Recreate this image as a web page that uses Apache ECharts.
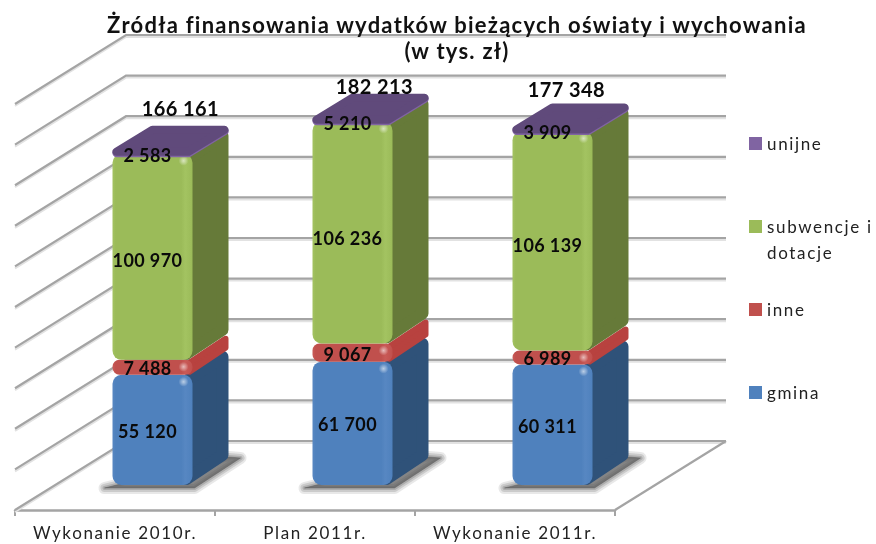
<!DOCTYPE html>
<html><head><meta charset="utf-8">
<style>
html,body{margin:0;padding:0;background:#fff}
#c{width:876px;height:544px;filter:blur(0.45px)}
#c svg text{letter-spacing:1.65px}
#c svg text[style*="bold"]{letter-spacing:0.4px}
#c svg text[style*="22px"]{letter-spacing:1.25px}
</style>
<script src="https://cdn.jsdelivr.net/npm/echarts@6/dist/echarts.min.js"></script>
</head><body><div id="c"></div>
<script>
const categories = ['Wykonanie 2010r.', 'Plan 2011r.', 'Wykonanie 2011r.'];
const gmina = [55120, 61700, 60311];
const inne = [7488, 9067, 6989];
const subwencje = [100970, 106236, 106139];
const unijne = [2583, 5210, 3909];
const totals = [166161, 182213, 177348];
const gridTicks = [0, 20000, 40000, 60000, 80000, 100000, 120000, 140000, 160000, 180000, 200000];

// oblique-projection style constants (pixels)
const WALL_DX = 111, WALL_DY = 69;
const BAR_LIFT = 25, BAR_W = 80, BAR_DX = 36, BAR_DY = 24, LID_DY = 27, BAR_SHIFT = -2.5, FORE = 0.985;
const TOTAL_DX = [68, 62, 54], TOTAL_DY = [-21, -11, -17];

const fmt = v => String(v).replace(/\B(?=(\d{3})+$)/g, ' ');
const stacks = [gmina, inne, subwencje, unijne];

function geom(api, idx, lo, hi) {
  const p0 = api.coord([idx, 0]);
  const pLo = api.coord([idx, lo]), pHi = api.coord([idx, hi]);
  const base = p0[1] - BAR_LIFT;
  return {
    x: p0[0] + BAR_SHIFT,
    yb: base - (p0[1] - pLo[1]) * FORE,
    yt: base - (p0[1] - pHi[1]) * FORE
  };
}
function poly(points, color, z2, R) {
  return { type: 'polygon', z2: z2 || 1, shape: { points },
    style: { fill: color, stroke: color, lineWidth: R * 2, lineJoin: 'round' } };
}
function segSeries(name, sIdx, front, frontHi, side, top) {
  return {
    name, type: 'custom', coordinateSystem: 'cartesian2d', silent: true,
    itemStyle: { color: front }, z: 5,
    encode: { x: 0, y: 2 },
    data: categories.map((c, i) => {
      let lo = 0; for (let k = 0; k < sIdx; k++) lo += stacks[k][i];
      return [i, lo, lo + stacks[sIdx][i], stacks[sIdx][i]];
    }),
    renderItem(params, api) {
      const i = api.value(0), lo = api.value(1), hi = api.value(2), v = api.value(3);
      const g = geom(api, i, lo, hi);
      const x = g.x, w = BAR_W, yb = g.yb, yt = g.yt;
      // the green block visually runs up under the flat purple lid
      const ytDraw = sIdx === 2 ? geom(api, i, 0, hi + unijne[i]).yt + 1 : yt;
      const kids = [];
      if (sIdx === 0) {
        // soft floor shadow: stacked translucent outlines
        const pts = [[x - 8, yb + 3], [x + w + 2, yb + 3], [x + w + BAR_DX + 12, yb - BAR_DY - 3], [x + w + BAR_DX, yb - BAR_DY - 4]];
        [[12, 0.14], [8, 0.2], [4, 0.26], [1, 0.4]].forEach(([lw, a]) => {
          kids.push({ type: 'polygon', z2: 0, shape: { points: pts },
            style: { fill: 'rgba(90,90,90,' + a + ')', stroke: 'rgba(90,90,90,' + a + ')', lineWidth: lw, lineJoin: 'round' } });
        });
      }
      const gradient = { type: 'linear', x: 0, y: 0, x2: 1, y2: 0, colorStops: [
        { offset: 0, color: frontHi }, { offset: 0.04, color: front }, { offset: 0.86, color: front },
        { offset: 0.91, color: frontHi }, { offset: 1, color: front }] };
      if (sIdx === 3) {
        const R = 4;
        const ly = yt + 3;
        const lidPts = d => [[x + R, ly - R + d], [x + w - R, ly - R + d],
          [x + w + BAR_DX - R, yt - LID_DY + R + d], [x + BAR_DX + R, yt - LID_DY + R + d]];
        kids.push(poly(lidPts(1.5), front, 4, R));
        kids.push(poly(lidPts(0), top, 5, R));
      } else {
        const R = sIdx === 1 ? 3 : 6;
        kids.push(poly([[x + w - R, yb - R], [x + w + BAR_DX - R, yb - BAR_DY - R],
          [x + w + BAR_DX - R, ytDraw - BAR_DY + R], [x + w - R, ytDraw + R]], side, 1, R));
        kids.push({ type: 'rect', z2: 2, shape: { x, y: ytDraw, width: w, height: yb - ytDraw, r: sIdx === 1 ? 7 : 9 },
          style: { fill: gradient } });
        kids.push({ type: 'circle', z2: 3, shape: { cx: x + w - 9, cy: ytDraw + 7, r: 5 },
          style: { fill: { type: 'radial', x: .5, y: .5, r: .5, colorStops: [
            { offset: 0, color: 'rgba(255,255,255,0.6)' }, { offset: 1, color: 'rgba(255,255,255,0)' }] } } });
      }
      kids.push({ type: 'text', z2: 100, style: {
        x: x + 35, y: sIdx === 3 ? yt + 2 : (yb + yt) / 2 + 1, text: fmt(v), textAlign: 'center', textVerticalAlign: 'middle',
        font: 'bold 18px Lato, sans-serif', fill: '#0a0a0a' } });
      return { type: 'group', children: kids };
    }
  };
}

const wallSeries = {
  type: 'custom', coordinateSystem: 'cartesian2d', silent: true, z: 1,
  encode: { y: 0 },
  data: gridTicks.map(v => [v]),
  renderItem(params, api) {
    const v = api.value(0), cs = params.coordSys;
    const y = api.coord([0, v])[1];
    const x0 = cs.x, x1 = cs.x + cs.width;
    const pts = d => [[x0, y + d], [x0 + WALL_DX, y - WALL_DY + d], [x1 + WALL_DX, y - WALL_DY + d]];
    const kids = [
      { type: 'polyline', z2: 0, shape: { points: pts(2) }, style: { stroke: '#e2e2e2', lineWidth: 2, fill: 'none' } },
      { type: 'polyline', z2: 1, shape: { points: pts(0) }, style: { stroke: '#a4a4a4', lineWidth: 2.2, fill: 'none' } }
    ];
    if (v === 0) kids.push({ type: 'line', z2: 1, shape: { x1, y1: y, x2: x1 + WALL_DX, y2: y - WALL_DY },
      style: { stroke: '#a4a4a4', lineWidth: 2.2 } });
    return { type: 'group', children: kids };
  }
};

const totalSeries = {
  type: 'custom', coordinateSystem: 'cartesian2d', silent: true, z: 6,
  encode: { x: 0, y: 1 },
  data: totals.map((t, i) => [i, t]),
  renderItem(params, api) {
    const i = api.value(0), t = api.value(1);
    const g = geom(api, i, 0, t);
    return { type: 'text', z2: 100, style: {
      x: g.x + TOTAL_DX[i], y: g.yt - BAR_DY + TOTAL_DY[i], text: fmt(t), textAlign: 'center', textVerticalAlign: 'middle',
      font: 'bold 20px Lato, sans-serif', fill: '#0a0a0a' } };
  }
};

const chart = echarts.init(document.getElementById('c'), null, { renderer: 'svg' });
chart.setOption({
  animation: false,
  backgroundColor: '#fff',
  title: {
    text: 'Żródła finansowania wydatków bieżących oświaty i wychowania\n(w tys. zł)',
    left: 452, top: 6, textAlign: 'center',
    textStyle: { fontFamily: 'Lato', fontWeight: 'bold', fontSize: 22, lineHeight: 26, color: '#111' }
  },
  grid: { left: 15, top: 104, width: 600, height: 406, containLabel: false },
  xAxis: {
    type: 'category', data: categories, boundaryGap: true,
    axisLine: { lineStyle: { color: '#a4a4a4', width: 2.5 } },
    axisTick: { show: true, length: 6, lineStyle: { color: '#a4a4a4', width: 2 } },
    axisLabel: { color: '#222', fontFamily: 'Lato', fontSize: 17, margin: 14 }
  },
  yAxis: { type: 'value', min: 0, max: 200000, interval: 20000, show: false, splitLine: { show: false } },
  legend: {
    orient: 'vertical', left: 744, top: 130, itemWidth: 13, itemHeight: 13, itemGap: 66,
    icon: 'rect',
    data: [
      { name: 'unijne', itemStyle: { color: '#8064a2' } },
      { name: 'subwencje i dotacje', itemStyle: { color: '#9bbb59' } },
      { name: 'inne', itemStyle: { color: '#c0504d' } },
      { name: 'gmina', itemStyle: { color: '#4f81bd' } }
    ],
    formatter: n => n === 'subwencje i dotacje' ? 'subwencje i' : n,
    textStyle: { fontFamily: 'Lato', fontSize: 17, color: '#222' }
  },
  graphic: [{ type: 'text', left: 767, top: 244, style: { text: 'dotacje', font: '17px Lato', fill: '#222' } }],
  series: [
    wallSeries,
    segSeries('gmina', 0, '#4f81bd', '#5787c2', '#2f5279', '#2f5279'),
    segSeries('inne', 1, '#c0504d', '#c95a57', '#b8423f', '#b8423f'),
    segSeries('subwencje i dotacje', 2, '#9bbb59', '#a3c361', '#667a39', '#667a39'),
    segSeries('unijne', 3, '#8064a2', '#8064a2', '#5f497a', '#604a7b'),
    totalSeries
  ]
});
</script></body></html>
